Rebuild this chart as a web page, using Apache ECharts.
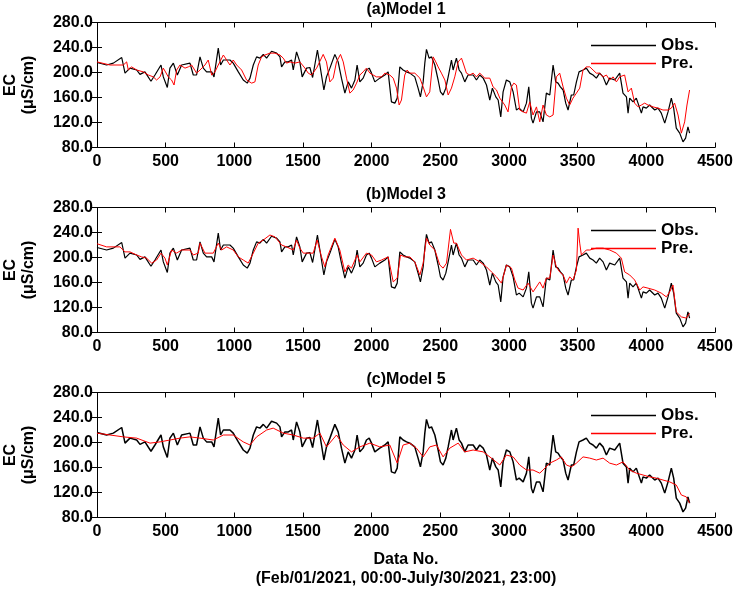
<!DOCTYPE html>
<html><head><meta charset="utf-8">
<script src="https://cdn.jsdelivr.net/npm/echarts@6/dist/echarts.min.js"></script>
<style>html,body{margin:0;padding:0;background:#fff}#c{width:736px;height:596px}</style>
</head><body><div id="c"></div>
<script>
// Observed EC (same in all three panels): [data no., value]
const obs = [[0,216],[70,212],[119,215],[180,224],[204,199],[240,207],[289,204],[313,197],[349,201],[393,186],[422,196],[466,212],[483,193],[512,176],[531,207],[556,215],[585,196],[616,212],[677,215],[701,196],[725,196],[750,225],[774,207],[798,201],[835,201],[852,193],[883,239],[900,212],[920,220],[968,220],[992,215],[1029,201],[1065,188],[1094,183],[1114,191],[1138,212],[1162,225],[1186,223],[1211,229],[1235,223],[1271,234],[1308,231],[1332,225],[1344,209],[1368,217],[1393,217],[1417,220],[1429,204],[1453,233],[1477,217],[1494,193],[1526,207],[1550,208],[1570,192],[1605,236],[1623,212],[1652,172],[1671,193],[1696,207],[1732,229],[1756,217],[1780,191],[1805,167],[1829,185],[1853,175],[1878,188],[1894,212],[1914,185],[1938,191],[1962,204],[1982,207],[1999,199],[2023,185],[2059,191],[2096,196],[2120,201],[2144,153],[2169,151],[2186,159],[2205,209],[2229,204],[2254,201],[2278,199],[2314,193],[2338,175],[2355,161],[2375,185],[2387,215],[2399,237],[2418,223],[2436,225],[2460,212],[2484,188],[2501,169],[2520,164],[2540,175],[2557,193],[2581,220],[2593,204],[2617,223],[2637,204],[2654,199],[2678,185],[2702,196],[2739,196],[2763,188],[2787,196],[2812,191],[2836,180],[2860,156],[2879,175],[2904,161],[2921,156],[2940,129],[2957,169],[2981,188],[3006,185],[3030,169],[3054,140],[3074,143],[3103,137],[3127,151],[3144,177],[3163,127],[3175,119],[3200,137],[3224,137],[3248,121],[3272,167],[3297,164],[3321,212],[3340,185],[3357,183],[3374,177],[3394,172],[3413,151],[3430,140],[3454,164],[3471,164],[3491,185],[3510,201],[3539,204],[3563,207],[3588,199],[3612,196],[3636,191],[3660,199],[3685,193],[3709,180],[3733,191],[3770,188],[3806,199],[3830,167],[3855,161],[3867,135],[3879,159],[3903,153],[3927,159],[3964,135],[3976,145],[4000,143],[4024,148],[4061,140],[4085,143],[4109,135],[4134,119],[4158,137],[4182,159],[4199,143],[4218,111],[4243,103],[4267,89],[4286,95],[4303,113],[4315,103]];

// Model 1 prediction
const pre1 = [[0,217],[95,212],[192,212],[216,217],[228,204],[252,209],[289,204],[337,201],[374,196],[410,193],[434,188],[459,193],[483,207],[519,193],[543,188],[561,180],[580,204],[604,212],[641,207],[665,209],[689,212],[725,199],[750,204],[786,212],[810,220],[835,196],[859,201],[883,212],[920,228],[944,220],[968,212],[992,220],[1017,212],[1053,204],[1089,188],[1126,183],[1150,185],[1174,212],[1198,225],[1223,228],[1259,231],[1296,231],[1332,228],[1356,223],[1380,215],[1405,217],[1441,215],[1477,217],[1514,207],[1538,199],[1562,196],[1599,207],[1647,229],[1671,217],[1696,185],[1720,191],[1744,217],[1773,229],[1793,217],[1817,191],[1841,167],[1865,172],[1890,183],[1914,196],[1938,201],[1962,207],[1987,199],[2011,196],[2035,193],[2072,193],[2096,199],[2132,196],[2157,191],[2181,175],[2200,148],[2217,156],[2241,196],[2258,204],[2278,199],[2314,199],[2351,191],[2375,177],[2399,161],[2423,169],[2448,225],[2467,217],[2484,209],[2508,199],[2533,188],[2557,164],[2581,175],[2605,193],[2630,217],[2654,223],[2671,212],[2690,199],[2714,196],[2739,199],[2763,193],[2787,199],[2824,191],[2860,191],[2884,177],[2909,172],[2933,159],[2969,148],[2993,137],[3018,177],[3035,183],[3054,180],[3078,140],[3103,137],[3127,135],[3151,153],[3175,132],[3200,145],[3224,121],[3248,148],[3272,132],[3297,129],[3321,132],[3345,193],[3369,199],[3394,177],[3418,159],[3442,148],[3466,159],[3491,167],[3515,175],[3539,204],[3563,209],[3588,209],[3612,204],[3636,199],[3660,199],[3685,193],[3709,196],[3733,188],[3758,193],[3782,185],[3806,193],[3842,196],[3867,169],[3891,175],[3915,151],[3940,145],[3964,148],[3988,151],[4012,148],[4049,145],[4085,143],[4121,140],[4158,140],[4182,143],[4206,151],[4231,132],[4255,103],[4279,121],[4296,148],[4315,172]];

// Model 3 prediction
const pre3 = [[0,222],[70,217],[167,217],[180,220],[204,209],[240,209],[289,204],[325,201],[361,199],[398,191],[434,196],[466,207],[495,199],[512,188],[543,212],[580,207],[616,212],[677,212],[701,204],[737,207],[750,223],[786,207],[847,207],[883,223],[907,212],[944,217],[992,212],[1029,201],[1065,196],[1101,191],[1138,207],[1174,223],[1211,228],[1259,236],[1296,233],[1344,220],[1380,217],[1429,212],[1453,228],[1477,215],[1502,207],[1550,207],[1574,207],[1603,228],[1635,201],[1659,185],[1683,204],[1732,231],[1768,212],[1805,177],[1829,188],[1853,183],[1894,204],[1914,193],[1962,207],[1999,204],[2035,193],[2072,196],[2120,201],[2157,161],[2186,167],[2210,204],[2241,201],[2278,201],[2314,193],[2351,172],[2375,191],[2399,231],[2423,220],[2460,212],[2496,188],[2520,183],[2545,191],[2574,245],[2598,223],[2617,223],[2654,204],[2690,196],[2739,199],[2787,193],[2836,185],[2872,177],[2909,169],[2945,159],[2981,188],[3018,183],[3042,164],[3066,151],[3103,148],[3139,159],[3175,145],[3224,161],[3248,151],[3272,167],[3297,167],[3321,204],[3345,185],[3369,177],[3394,172],[3418,159],[3442,169],[3466,164],[3491,180],[3503,247],[3515,223],[3527,204],[3563,212],[3588,212],[3636,215],[3685,215],[3733,212],[3782,207],[3818,199],[3842,177],[3879,172],[3915,164],[3952,148],[3976,153],[4012,151],[4061,148],[4109,143],[4146,137],[4170,145],[4194,156],[4218,113],[4255,105],[4291,103],[4315,111]];

// Model 5 prediction
const pre5 = [[0,215],[95,212],[192,209],[289,207],[386,199],[459,201],[531,204],[604,207],[677,209],[750,207],[847,204],[920,212],[992,212],[1065,201],[1114,196],[1162,209],[1235,220],[1283,223],[1356,215],[1429,212],[1502,207],[1575,207],[1623,215],[1671,193],[1744,212],[1793,196],[1853,185],[1914,193],[1987,199],[2059,193],[2132,196],[2186,167],[2229,196],[2278,199],[2326,191],[2375,177],[2423,193],[2472,196],[2520,177],[2569,191],[2630,199],[2678,185],[2739,188],[2812,185],[2872,175],[2933,164],[2981,180],[3030,177],[3078,164],[3127,156],[3175,156],[3224,151],[3248,156],[3297,167],[3345,172],[3381,177],[3418,164],[3454,161],[3491,167],[3539,177],[3588,175],[3636,172],[3685,175],[3733,167],[3782,164],[3830,169],[3879,156],[3927,151],[3976,148],[4024,145],[4073,143],[4121,140],[4170,137],[4218,132],[4255,116],[4291,113],[4315,103]];

const titles = ['(a)Model 1', '(b)Model 3', '(c)Model 5'];
const preds = [pre1, pre3, pre5];
const legendNames = ['Obs.', 'Pre.'];
const xMin = 0, xMax = 4500, xStep = 500;
const yMin = 80, yMax = 280, yStep = 40;
const yName = 'EC\n(μS/cm)';
const xName = 'Data No.\n(Feb/01/2021, 00:00-July/30/2021, 23:00)';

const FONT = '"Liberation Sans", Arial, sans-serif';
const tops = [22.5, 207.5, 392.5];
const H = 125, LEFT = 97, RIGHT = 21;
const axisLineStyle = {color: '#000', width: 1};
const tickStyle = {show: true, inside: true, length: 5, lineStyle: {color: '#000', width: 1}};
const lbl = {fontFamily: FONT, fontSize: 16, fontWeight: 'bold', color: '#000'};

const grid = [], xAxis = [], yAxis = [], series = [], title = [], legend = [];
for (let i = 0; i < 3; i++) {
  grid.push({left: LEFT, right: RIGHT, top: tops[i], height: H, containLabel: false, outerBoundsMode: 'none'});
  title.push({text: titles[i], left: 406, top: tops[i] - 21, textAlign: 'center', padding: 0,
    textStyle: {...lbl, fontSize: 16}});
  xAxis.push({type: 'value', gridIndex: i, min: xMin, max: xMax, interval: xStep,
    axisLine: {show: true, lineStyle: axisLineStyle}, axisTick: tickStyle, splitLine: {show: false},
    axisLabel: {...lbl, margin: 6, formatter: v => String(v)},
    name: i === 2 ? xName : '', nameLocation: 'middle', nameGap: 33,
    nameTextStyle: {...lbl, lineHeight: 19}});
  xAxis.push({type: 'value', gridIndex: i, position: 'top', min: xMin, max: xMax, interval: xStep,
    axisLine: {show: true, lineStyle: axisLineStyle}, axisTick: tickStyle, splitLine: {show: false},
    axisLabel: {show: false}});
  yAxis.push({type: 'value', gridIndex: i, min: yMin, max: yMax, interval: yStep,
    axisLine: {show: true, lineStyle: axisLineStyle}, axisTick: tickStyle, splitLine: {show: false},
    axisLabel: {...lbl, margin: 4, formatter: v => v.toFixed(1)},
    name: yName, nameLocation: 'middle', nameRotate: 90, nameGap: 59,
    nameTextStyle: {...lbl, lineHeight: 18}});
  yAxis.push({type: 'value', gridIndex: i, position: 'right', min: yMin, max: yMax, interval: yStep,
    axisLine: {show: true, lineStyle: axisLineStyle}, axisTick: tickStyle, splitLine: {show: false},
    axisLabel: {show: false}});
  series.push({name: legendNames[0], type: 'line', xAxisIndex: 2 * i, yAxisIndex: 2 * i, data: obs,
    showSymbol: false, symbol: 'none', color: '#000', lineStyle: {color: '#000', width: i === 2 ? 1.5 : 1.2},
    animation: false, z: 2});
  series.push({name: legendNames[1], type: 'line', xAxisIndex: 2 * i, yAxisIndex: 2 * i, data: preds[i],
    showSymbol: false, symbol: 'none', color: '#ff0000', lineStyle: {color: '#ff0000', width: 1},
    animation: false, z: 3});
  legend.push({orient: 'vertical', left: 591, top: tops[i] + 14.5, padding: 0, itemGap: 1,
    icon: 'rect', itemWidth: 65, itemHeight: 1.5, selectedMode: false,
    textStyle: {...lbl, fontSize: 17, lineHeight: 17},
    data: legendNames});
}

const chart = echarts.init(document.getElementById('c'), null, {renderer: 'canvas'});
chart.setOption({animation: false, backgroundColor: '#fff', title, legend, grid, xAxis, yAxis, series});
</script></body></html>
